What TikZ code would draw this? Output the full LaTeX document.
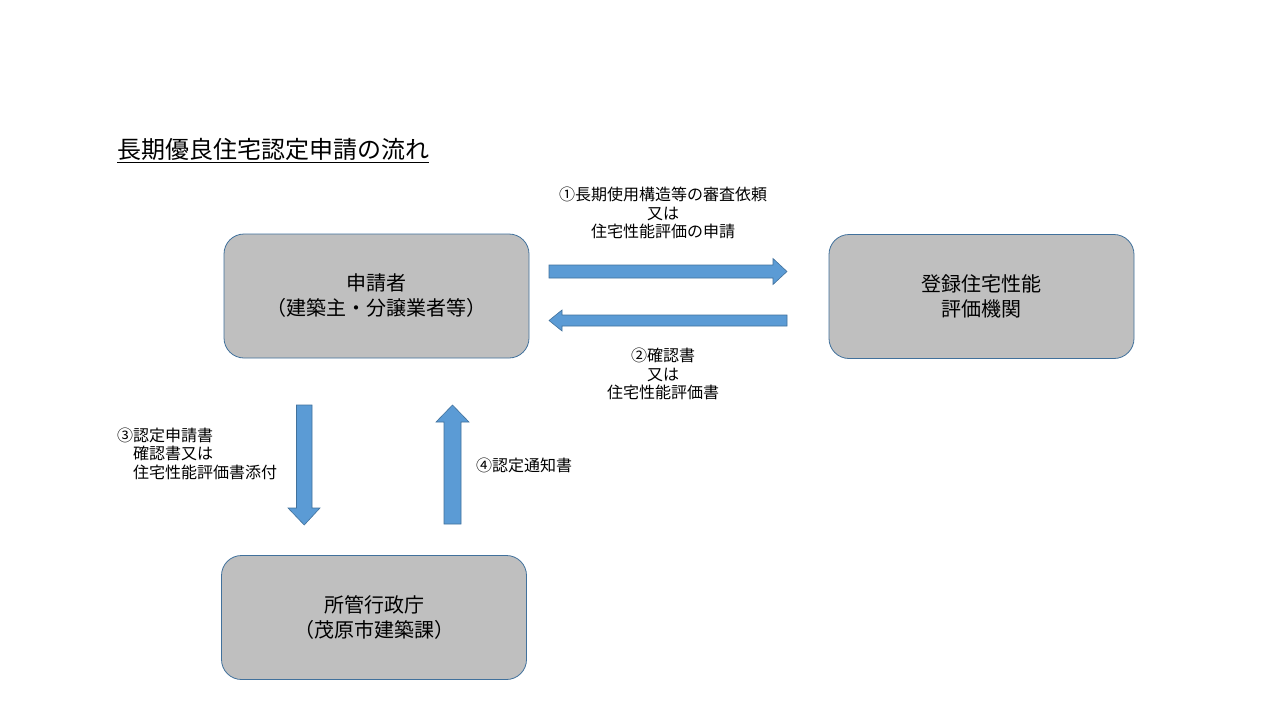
\documentclass[tikz,border=0pt]{standalone}
\usepackage{fontspec}
\setmainfont{Noto Sans CJK JP}
\definecolor{boxfill}{HTML}{BFBFBF}
\definecolor{boxline}{HTML}{41719C}
\definecolor{arrfill}{HTML}{5B9BD5}
\tikzset{
  procbox/.style={draw=boxline, line width=0.8pt, fill=boxfill, rounded corners=20pt,
    minimum width=305pt, minimum height=124pt, align=center, inner sep=0pt,
    font=\fontsize{20}{25}\selectfont},
  lbl/.style={align=center, inner sep=0pt, font=\fontsize{16}{18.5}\selectfont},
  blockarrow/.style={draw=boxline, line width=0.6pt, fill=arrfill},
}
\begin{document}
\begin{tikzpicture}[x=1pt,y=-1pt]
\useasboundingbox (0,0) rectangle (1280,720);
\fill[white] (0,0) rectangle (1280,720);

% title
\node[anchor=base west, inner sep=0pt, font=\fontsize{24}{26}\selectfont] (title) at (117,158) {長期優良住宅認定申請の流れ};
\draw[line width=0.8pt] ([yshift=-4pt]title.base west) -- ([yshift=-4pt]title.base east);

% boxes
\node[procbox] (app) at (376.5,296) {申請者\\（建築主・分譲業者等）};
\node[procbox] (reg) at (981.5,296.5) {登録住宅性能\\評価機関};
\node[procbox] (gov) at (374,617.5) {所管行政庁\\（茂原市建築課）};

% arrow right (1)
\draw[blockarrow] (549,265) -- (773,265) -- (773,258.5) -- (787,271.5) -- (773,284.5) -- (773,278) -- (549,278) -- cycle;
% arrow left (2)
\draw[blockarrow] (787,315) -- (562,315) -- (562,310) -- (549,320.5) -- (562,331) -- (562,326) -- (787,326) -- cycle;
% arrow down (3)
\draw[blockarrow] (296.5,405) -- (312,405) -- (312,508) -- (320,508) -- (304.25,525) -- (288,508) -- (296.5,508) -- cycle;
% arrow up (4)
\draw[blockarrow] (444,524) -- (461,524) -- (461,422) -- (469,422) -- (452.5,405) -- (436,422) -- (444,422) -- cycle;

% labels
\node[lbl] (l1) at (663,213) {①長期使用構造等の審査依頼\\又は\\住宅性能評価の申請};
\node[lbl] (l2) at (663,374) {②確認書\\又は\\住宅性能評価書};
\node[lbl, align=left, anchor=north west] (l3) at (117,427.5) {③認定申請書\\\hspace*{16pt}確認書又は\\\hspace*{16pt}住宅性能評価書添付};
\node[lbl, anchor=west] (l4) at (476,465) {④認定通知書};
\end{tikzpicture}
\end{document}
